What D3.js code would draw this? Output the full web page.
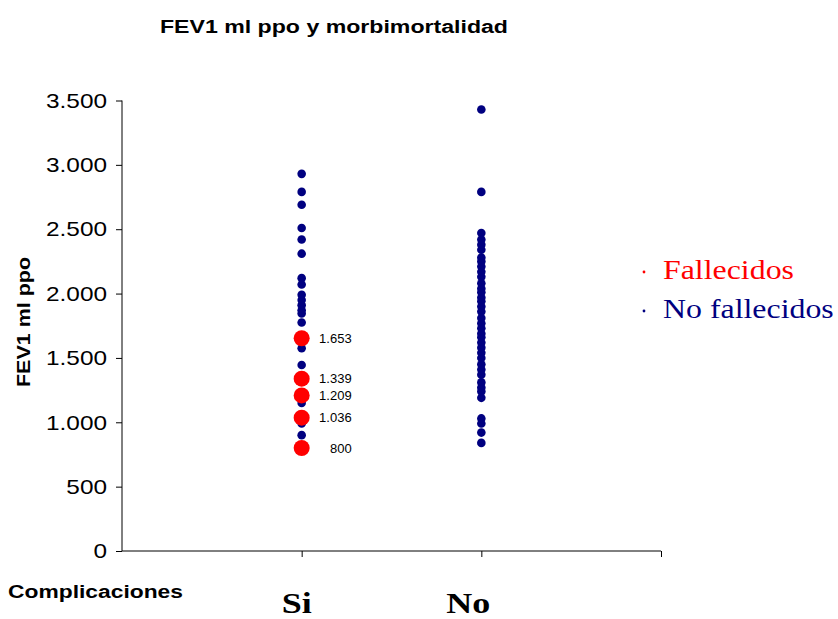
<!DOCTYPE html>
<html>
<head>
<meta charset="utf-8">
<script src="https://cdn.jsdelivr.net/npm/d3@7"></script>
<style>
  body { margin: 0; background: #fff; }
</style>
</head>
<body>
<svg id="drawing_region"></svg>
<script>
const categories = ["Si", "No"];
const yTicks = [0, 500, 1000, 1500, 2000, 2500, 3000, 3500];

// FEV1 ml ppo por grupo
const siNoFallecidos = [2930, 2790, 2690, 2510, 2420, 2310, 2120, 2070, 1990, 1950,
    1910, 1870, 1845, 1775, 1640, 1575, 1445, 1340, 1210, 1150, 1040, 990, 900];
const siFallecidos = [1653, 1339, 1209, 1036, 800];
const noNoFallecidos = [3430, 2790, 2470, 2420, 2380, 2340, 2280, 2250, 2210, 2170,
    2130, 2080, 2040, 2010, 1970, 1940, 1900, 1860, 1810, 1770, 1730, 1690, 1660,
    1620, 1580, 1540, 1500, 1450, 1410, 1370, 1310, 1270, 1240, 1190, 1030, 990, 920, 840];

const legendLabels = ["Fallecidos", "No fallecidos"];
const legendColors = ["#ff0000", "#000080"];

const locale = d3.formatLocale({decimal: ",", thousands: ".", grouping: [3], currency: ["", ""]});
const fmt = locale.format(",d");

var config = {
    parent: '#drawing_region',
    width: 838,
    height: 619,
    margin: {top: 100.5, right: 177, bottom: 68, left: 122}
};

// the original picture is a bit wider than tall, so texts are stretched sideways
function stretch( sel, k ) {
    sel.each( function() {
        const len = this.getComputedTextLength();
        d3.select(this)
            .attr('textLength', len * k)
            .attr('lengthAdjust', 'spacingAndGlyphs');
    });
}

class DotChart {

    constructor( config ) {
        this.config = config;
        this.init();
    }

    init() {
        let self = this;

        self.svg = d3.select( self.config.parent )
            .attr('width', self.config.width)
            .attr('height', self.config.height);

        self.chart = self.svg.append('g')
            .attr('transform', `translate(${self.config.margin.left}, ${self.config.margin.top})`);

        self.inner_width = self.config.width - self.config.margin.left - self.config.margin.right;
        self.inner_height = self.config.height - self.config.margin.top - self.config.margin.bottom;

        self.xscale = d3.scaleLinear()
            .domain([0, categories.length + 1])
            .range([0, self.inner_width]);

        self.yscale = d3.scaleLinear()
            .domain([0, 3500])
            .range([self.inner_height, 0]);

        self.xaxis = d3.axisBottom( self.xscale )
            .tickValues([1, 2, 3])
            .tickFormat('')
            .tickSize(6)
            .tickSizeOuter(0);

        self.yaxis = d3.axisLeft( self.yscale )
            .tickValues( yTicks )
            .tickFormat( fmt )
            .tickSize(6)
            .tickPadding(9)
            .tickSizeOuter(0);
    }

    render() {
        let self = this;

        self.chart.append('g')
            .attr('transform', `translate(0, ${self.inner_height})`)
            .call( self.xaxis )
            .call( g => g.select('.domain').attr('d', `M0,0H${self.inner_width}`) );

        self.chart.append('g')
            .call( self.yaxis )
            .call( g => g.select('.domain').attr('d', `M0,0V${self.inner_height}`) )
            .selectAll('text')
            .attr('font-family', 'Liberation Sans, Arial, sans-serif')
            .attr('font-size', '21px')
            .attr('fill', '#000')
            .call( stretch, 1.16 );

        self.chart.selectAll('.domain, .tick line')
            .attr('stroke', '#000');

        // No fallecidos (azul)
        const blue = [];
        siNoFallecidos.forEach( v => blue.push({c: 1, v: v}) );
        noNoFallecidos.forEach( v => blue.push({c: 2, v: v}) );

        self.chart.selectAll('circle.blue')
            .data(blue)
            .enter()
            .append('circle')
            .attr('class', 'blue')
            .attr('cx', d => self.xscale(d.c))
            .attr('cy', d => self.yscale(d.v))
            .attr('r', 4.3)
            .attr('fill', legendColors[1]);

        self.chart.selectAll('circle.red')
            .data(siFallecidos)
            .enter()
            .append('circle')
            .attr('class', 'red')
            .attr('cx', self.xscale(1))
            .attr('cy', d => self.yscale(d))
            .attr('r', 8)
            .attr('fill', legendColors[0]);

        self.chart.selectAll('text.val')
            .data(siFallecidos)
            .enter()
            .append('text')
            .attr('class', 'val')
            .attr('x', self.xscale(1) + 50)
            .attr('y', d => self.yscale(d))
            .attr('dy', '0.35em')
            .attr('text-anchor', 'end')
            .attr('font-family', 'Liberation Sans, Arial, sans-serif')
            .attr('font-size', '13px')
            .text( d => fmt(d) );

        // categorias
        self.chart.selectAll('text.cat')
            .data(categories)
            .enter()
            .append('text')
            .attr('class', 'cat')
            .attr('x', (d, i) => self.xscale(i + 1) - 5 - i * 8)
            .attr('y', self.inner_height + 62)
            .attr('text-anchor', 'middle')
            .attr('font-family', 'Liberation Serif, Times New Roman, serif')
            .attr('font-weight', 'bold')
            .attr('font-size', '30px')
            .text( d => d )
            .call( stretch, 1.2 );

        self.svg.append('text')
            .attr('x', 8)
            .attr('y', 598)
            .attr('font-family', 'Liberation Sans, Arial, sans-serif')
            .attr('font-weight', 'bold')
            .attr('font-size', '18px')
            .attr('textLength', 175)
            .attr('lengthAdjust', 'spacingAndGlyphs')
            .text('Complicaciones');

        self.svg.append('text')
            .attr('x', 160)
            .attr('y', 33)
            .attr('font-family', 'Liberation Sans, Arial, sans-serif')
            .attr('font-weight', 'bold')
            .attr('font-size', '18px')
            .attr('textLength', 348)
            .attr('lengthAdjust', 'spacingAndGlyphs')
            .text('FEV1 ml ppo y morbimortalidad');

        self.svg.append('text')
            .attr('transform', 'translate(30, 387) rotate(-90)')
            .attr('font-family', 'Liberation Sans, Arial, sans-serif')
            .attr('font-weight', 'bold')
            .attr('font-size', '18px')
            .attr('textLength', 130)
            .attr('lengthAdjust', 'spacingAndGlyphs')
            .text('FEV1 ml ppo');

        // leyenda
        const legend = self.svg.selectAll('g.legend')
            .data(legendLabels)
            .enter()
            .append('g')
            .attr('class', 'legend')
            .attr('transform', (d, i) => `translate(643, ${279 + i * 39})`);

        legend.append('circle')
            .attr('cx', 1)
            .attr('cy', -7)
            .attr('r', 1.4)
            .attr('fill', (d, i) => legendColors[i]);

        legend.append('text')
            .attr('x', 20)
            .attr('y', 0)
            .attr('font-family', 'Liberation Serif, Times New Roman, serif')
            .attr('font-size', '27px')
            .attr('fill', (d, i) => legendColors[i])
            .text( d => d )
            .call( stretch, 1.18 );
    }
}

const chart = new DotChart( config );
chart.render();
</script>
</body>
</html>
